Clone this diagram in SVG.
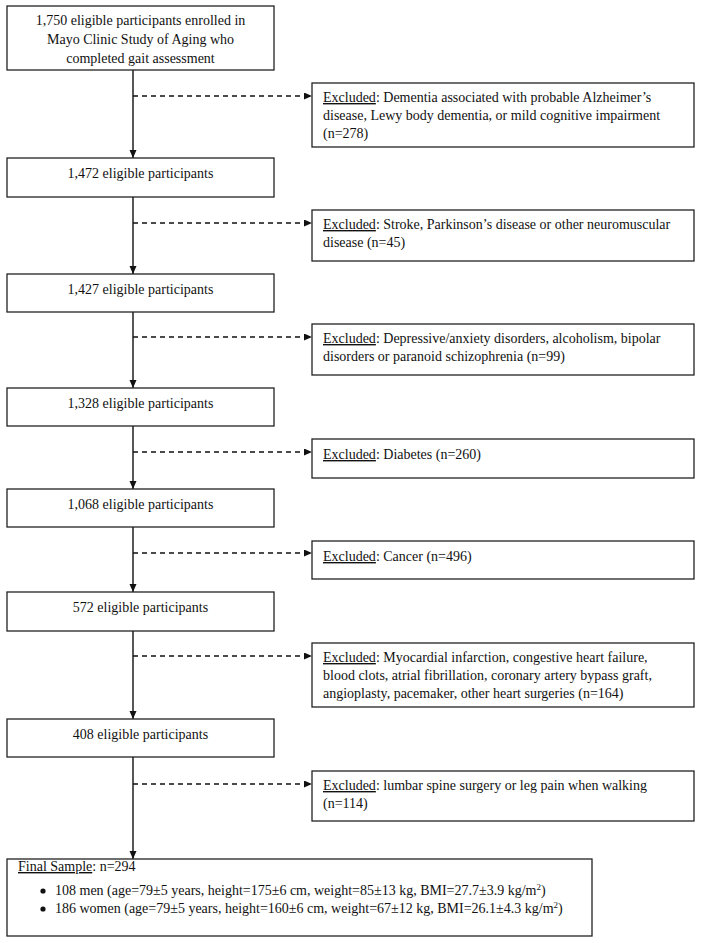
<svg xmlns="http://www.w3.org/2000/svg" width="701" height="943" viewBox="0 0 701 943">
<defs>
<style>
.box{fill:#fff;stroke:#222;stroke-width:1.3}
text{font-family:"Liberation Serif","Times New Roman",serif;font-size:14px;fill:#111}
.c{text-anchor:middle}
.u{text-decoration:underline}
.solid{stroke:#111;stroke-width:1.4;fill:none}
.dash{stroke:#111;stroke-width:1.4;fill:none;stroke-dasharray:5,4}
</style>
<marker id="ah" markerUnits="userSpaceOnUse" markerWidth="9" markerHeight="8" refX="8" refY="3.5" orient="auto">
<path d="M0,0 L8,3.5 L0,7 z" fill="#111"/>
</marker>
</defs>
<rect width="701" height="943" fill="#fff"/>
<g id="connectors">
<line class="solid" x1="133" y1="70" x2="133" y2="158" marker-end="url(#ah)"/>
<line class="solid" x1="133" y1="197" x2="133" y2="274" marker-end="url(#ah)"/>
<line class="solid" x1="133" y1="312" x2="133" y2="388" marker-end="url(#ah)"/>
<line class="solid" x1="133" y1="426" x2="133" y2="489" marker-end="url(#ah)"/>
<line class="solid" x1="133" y1="527" x2="133" y2="592" marker-end="url(#ah)"/>
<line class="solid" x1="133" y1="631" x2="133" y2="719" marker-end="url(#ah)"/>
<line class="solid" x1="133" y1="757" x2="133" y2="859" marker-end="url(#ah)"/>
<line class="dash" x1="133" y1="96" x2="312" y2="96" marker-end="url(#ah)"/>
<line class="dash" x1="133" y1="223" x2="312" y2="223" marker-end="url(#ah)"/>
<line class="dash" x1="133" y1="337" x2="312" y2="337" marker-end="url(#ah)"/>
<line class="dash" x1="133" y1="452" x2="312" y2="452" marker-end="url(#ah)"/>
<line class="dash" x1="133" y1="553" x2="312" y2="553" marker-end="url(#ah)"/>
<line class="dash" x1="133" y1="656" x2="312" y2="656" marker-end="url(#ah)"/>
<line class="dash" x1="133" y1="784" x2="312" y2="784" marker-end="url(#ah)"/>
</g>
<g id="n1750">
<rect class="box" x="7" y="6" width="267" height="64"/>
<text class="c" x="140.5" y="25">1,750 eligible participants enrolled in</text>
<text class="c" x="140.5" y="44">Mayo Clinic Study of Aging who</text>
<text class="c" x="140.5" y="63">completed gait assessment</text>
</g>
<g id="n1472">
<rect class="box" x="7" y="158" width="267" height="39"/>
<text class="c" x="140.5" y="178">1,472 eligible participants</text>
</g>
<g id="n1427">
<rect class="box" x="7" y="274" width="267" height="38"/>
<text class="c" x="140.5" y="294">1,427 eligible participants</text>
</g>
<g id="n1328">
<rect class="box" x="7" y="388" width="267" height="38"/>
<text class="c" x="140.5" y="408">1,328 eligible participants</text>
</g>
<g id="n1068">
<rect class="box" x="7" y="489" width="267" height="38"/>
<text class="c" x="140.5" y="509">1,068 eligible participants</text>
</g>
<g id="n572">
<rect class="box" x="7" y="592" width="267" height="39"/>
<text class="c" x="140.5" y="612">572 eligible participants</text>
</g>
<g id="n408">
<rect class="box" x="7" y="719" width="267" height="38"/>
<text class="c" x="140.5" y="739">408 eligible participants</text>
</g>
<g id="ex1">
<rect class="box" x="312" y="83" width="382" height="64"/>
<text x="323" y="102"><tspan class="u">Excluded</tspan>: Dementia associated with probable Alzheimer’s</text>
<text x="323" y="120">disease, Lewy body dementia, or mild cognitive impairment</text>
<text x="323" y="138">(n=278)</text>
</g>
<g id="ex2">
<rect class="box" x="312" y="210" width="382" height="51"/>
<text x="323" y="229"><tspan class="u">Excluded</tspan>: Stroke, Parkinson’s disease or other neuromuscular</text>
<text x="323" y="247">disease (n=45)</text>
</g>
<g id="ex3">
<rect class="box" x="312" y="324" width="382" height="51"/>
<text x="323" y="343"><tspan class="u">Excluded</tspan>: Depressive/anxiety disorders, alcoholism, bipolar</text>
<text x="323" y="361">disorders or paranoid schizophrenia (n=99)</text>
</g>
<g id="ex4">
<rect class="box" x="312" y="439" width="382" height="39"/>
<text x="323" y="459"><tspan class="u">Excluded</tspan>: Diabetes (n=260)</text>
</g>
<g id="ex5">
<rect class="box" x="312" y="541" width="382" height="38"/>
<text x="323" y="561"><tspan class="u">Excluded</tspan>: Cancer (n=496)</text>
</g>
<g id="ex6">
<rect class="box" x="312" y="643" width="382" height="64"/>
<text x="323" y="662"><tspan class="u">Excluded</tspan>: Myocardial infarction, congestive heart failure,</text>
<text x="323" y="680">blood clots, atrial fibrillation, coronary artery bypass graft,</text>
<text x="323" y="698">angioplasty, pacemaker, other heart surgeries (n=164)</text>
</g>
<g id="ex7">
<rect class="box" x="312" y="771" width="382" height="50"/>
<text x="323" y="790"><tspan class="u">Excluded</tspan>: lumbar spine surgery or leg pain when walking</text>
<text x="323" y="808">(n=114)</text>
</g>
<g id="final">
<rect class="box" x="7" y="859" width="585" height="77"/>
<text x="18" y="871"><tspan class="u">Final Sample</tspan>: n=294</text>
<circle cx="43" cy="891" r="2.6" fill="#111"/>
<circle cx="43" cy="909" r="2.6" fill="#111"/>
<text x="55" y="895">108 men (age=79±5 years, height=175±6 cm, weight=85±13 kg, BMI=27.7±3.9 kg/m<tspan font-size="9" dy="-5">2</tspan><tspan dy="5">)</tspan></text>
<text x="55" y="913">186 women (age=79±5 years, height=160±6 cm, weight=67±12 kg, BMI=26.1±4.3 kg/m<tspan font-size="9" dy="-5">2</tspan><tspan dy="5">)</tspan></text>
</g>
</svg>
